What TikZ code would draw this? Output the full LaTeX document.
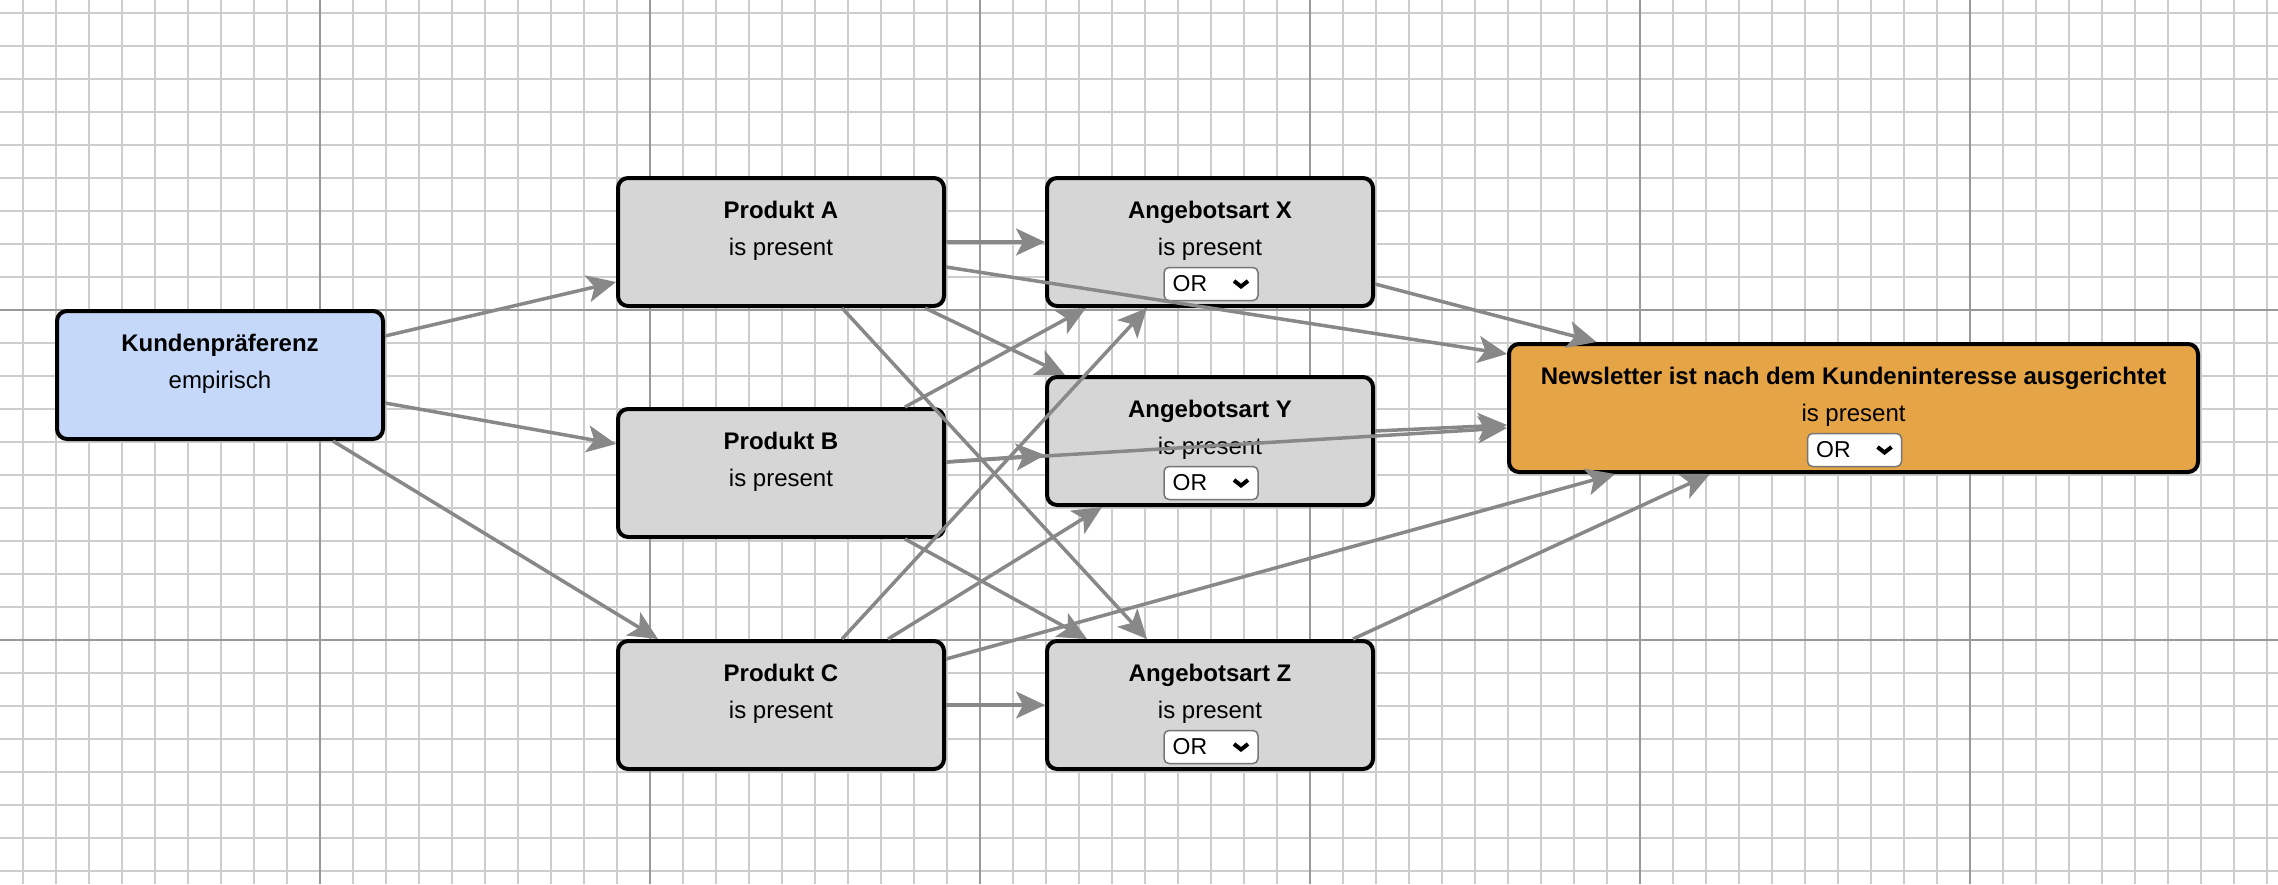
\documentclass[tikz,border=0pt]{standalone}
\usepackage{fontspec}
\setmainfont{Liberation Sans}
\usetikzlibrary{arrows.meta,calc}
\definecolor{minorc}{HTML}{CDCDCD}
\definecolor{majorc}{HTML}{999999}
\definecolor{bluef}{HTML}{C5D8F9}
\definecolor{grayf}{HTML}{D6D6D6}
\definecolor{orangef}{HTML}{E5A445}
\definecolor{arrc}{HTML}{888888}
\definecolor{selc}{HTML}{767676}
\newcommand\mkselect[1]{%
  \node[selbox] (#1-o) at ($(#1.center)+(1,42)$) {};
  \node[seltext] (#1-ot) at ($(#1-o.west)+(9,7.5)$) {OR};
  \draw[chevron] ($(#1-o.center)+(23,-3)$) -- ++(7,5.5) -- ++(7,-5.5);
}
\begin{document}
\begin{tikzpicture}[x=0.5pt,y=-0.5pt,
  minorline/.style={draw=minorc,line width=1pt},
  majorline/.style={draw=majorc,line width=1.1pt},
  card/.style={draw=black,line width=2pt,rounded corners=5pt,minimum width=163pt,minimum height=64pt,inner sep=0pt},
  cardtitle/.style={anchor=base,inner sep=0pt,font=\bfseries\fontsize{12}{14}\selectfont},
  cardsub/.style={anchor=base,inner sep=0pt,font=\fontsize{12}{14}\selectfont},
  selbox/.style={draw=selc,fill=white,line width=0.75pt,rounded corners=2.5pt,minimum width=47pt,minimum height=16.5pt,inner sep=0pt},
  seltext/.style={anchor=base west,inner sep=0pt,font=\fontsize{11.5}{13}\selectfont},
  chevron/.style={draw=black,line width=2pt},
  conn/.style={draw=arrc,line width=1.75pt,-{Stealth[length=14.5pt,width=13.5pt,inset=3.5pt]}}
]
\useasboundingbox (0,0) rectangle (2278,884);
\fill[white] (0,0) rectangle (2278,884);
% grid
\foreach \i in {-9,...,59} { \draw[minorline] ({320+33*\i},0) -- ({320+33*\i},884); }
\foreach \j in {-9,...,17} { \draw[minorline] (0,{310+33*\j}) -- (2278,{310+33*\j}); }
\foreach \x in {320,650,980,1310,1640,1970} { \draw[majorline] (\x,0) -- (\x,884); }
\foreach \y in {310,640} { \draw[majorline] (0,\y) -- (2278,\y); }

% nodes
\node[card,fill=bluef] (K) at (220,375) {};
\node[card,fill=grayf] (A) at (781,242) {};
\node[card,fill=grayf] (B) at (781,473) {};
\node[card,fill=grayf] (C) at (781,705) {};
\node[card,fill=grayf] (X) at (1210,242) {};
\node[card,fill=grayf] (Y) at (1210,441) {};
\node[card,fill=grayf] (Z) at (1210,705) {};
\node[card,fill=orangef,minimum width=344.5pt] (N) at (1853.5,408) {};

% texts
\node[cardtitle] (K-t) at ($(K.center)+(0,-24)$) {Kundenpräferenz};
\node[cardsub]   (K-s) at ($(K.center)+(0,13)$) {empirisch};
\node[cardtitle] (A-t) at ($(A.center)+(0,-24)$) {Produkt A};
\node[cardsub]   (A-s) at ($(A.center)+(0,13)$) {is present};
\node[cardtitle] (B-t) at ($(B.center)+(0,-24)$) {Produkt B};
\node[cardsub]   (B-s) at ($(B.center)+(0,13)$) {is present};
\node[cardtitle] (C-t) at ($(C.center)+(0,-24)$) {Produkt C};
\node[cardsub]   (C-s) at ($(C.center)+(0,13)$) {is present};
\node[cardtitle] (X-t) at ($(X.center)+(0,-24)$) {Angebotsart X};
\node[cardsub]   (X-s) at ($(X.center)+(0,13)$) {is present};
\node[cardtitle] (Y-t) at ($(Y.center)+(0,-24)$) {Angebotsart Y};
\node[cardsub]   (Y-s) at ($(Y.center)+(0,13)$) {is present};
\node[cardtitle] (Z-t) at ($(Z.center)+(0,-24)$) {Angebotsart Z};
\node[cardsub]   (Z-s) at ($(Z.center)+(0,13)$) {is present};
\node[cardtitle] (N-t) at ($(N.center)+(0,-24)$) {Newsletter ist nach dem Kundeninteresse ausgerichtet};
\node[cardsub]   (N-s) at ($(N.center)+(0,13)$) {is present};

\mkselect{X}
\mkselect{Y}
\mkselect{Z}
\mkselect{N}

% connectors
\draw[conn] ([shift={(0,-39)}]K.east) -- ([shift={(0,40)}]A.west);
\draw[conn] ([shift={(0,28)}]K.east) -- ([shift={(0,-29)}]B.west);
\draw[conn] ([shift={(113,0)}]K.south) -- ([shift={(-123,0)}]C.north);
\draw[conn] (A.east) -- (X.west);
\draw[conn] ([shift={(0,25)}]A.east) -- ([shift={(0,-54)}]N.west);
\draw[conn] ([shift={(144,0)}]A.south) -- ([shift={(-145,0)}]Y.north);
\draw[conn] ([shift={(61,0)}]A.south) -- ([shift={(-63,0)}]Z.north);
\draw[conn] ([shift={(124,0)}]B.north) -- ([shift={(-124,0)}]X.south);
\draw[conn] ([shift={(0,-11)}]B.east) -- ([shift={(0,14)}]Y.west);
\draw[conn] ([shift={(0,-11)}]B.east) -- ([shift={(0,20)}]N.west);
\draw[conn] ([shift={(124,0)}]B.south) -- ([shift={(-123,0)}]Z.north);
\draw[conn] ([shift={(61,0)}]C.north) -- ([shift={(-63,0)}]X.south);
\draw[conn] ([shift={(107,0)}]C.north) -- ([shift={(-108,0)}]Y.south);
\draw[conn] (C.east) -- (Z.west);
\draw[conn] ([shift={(0,-46)}]C.east) -- ([shift={(-238.5,0)}]N.south);
\draw[conn] ([shift={(0,42)}]X.east) -- ([shift={(-257,0)}]N.north);
\draw[conn] ([shift={(0,-10)}]Y.east) -- ([shift={(0,17)}]N.west);
\draw[conn] ([shift={(143,0)}]Z.north) -- ([shift={(-143.5,0)}]N.south);
\end{tikzpicture}
\end{document}
